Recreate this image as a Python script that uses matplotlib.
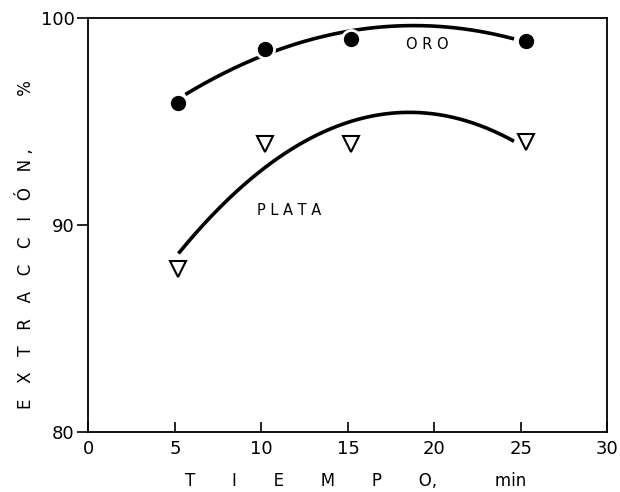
import numpy as np
import matplotlib.pyplot as plt

# measured points
tiempo = [5.2, 10.2, 15.2, 25.3]
oro = [95.9, 98.5, 99.0, 98.9]
plata = [87.9, 93.9, 93.9, 94.0]

# points
oro_curve_x = [5.6, 10.3, 14.7, 16.9, 19.7, 24.6]
oro_curve_y = [96.3, 98.3, 99.3, 99.55, 99.65, 99.0]
plata_curve_x = [5.2, 8.8, 13.0, 18.8, 19.7, 24.6]
plata_curve_y = [88.4, 92.3, 94.0, 95.4, 95.4, 94.1]

xticks = [0, 5, 10, 15, 20, 25, 30]
yticks = [80, 90, 100]

fig = plt.figure(figsize=(6.2, 4.92), dpi=100)
ax = fig.add_axes([0.1427, 0.122, 0.837, 0.841])

for cx, cy in [(oro_curve_x, oro_curve_y), (plata_curve_x, plata_curve_y)]:
    c = np.polyfit(cx, cy, 2)
    xs = np.linspace(cx[0], cx[-1], 200)
    ax.plot(xs, np.polyval(c, xs), color='black', lw=2.6, zorder=2,
            solid_capstyle='butt')

# white halo so the curves break around the markers
ax.plot(tiempo, oro, 'o', ms=14, color='white', zorder=3)
ax.plot(tiempo, oro, 'o', ms=10, color='black', zorder=4)
ax.plot(tiempo, plata, 'v', ms=15, color='white', zorder=3)
ax.plot(tiempo, plata, 'v', ms=12, mfc='white', mec='black', mew=1.5,
        zorder=4)

ax.text(19.6, 98.75, 'O R O', ha='center', va='center', fontsize=10.5)
ax.text(11.6, 90.7, 'P L A T A', ha='center', va='center', fontsize=10.5)

ax.set_xlim(0, 30)
ax.set_ylim(80, 100)
ax.set_xticks(xticks)
ax.set_yticks(yticks)
ax.tick_params(axis='x', direction='in', length=7, width=1.2,
               labelsize=13, pad=6)
ax.tick_params(axis='y', direction='out', length=8, width=1.2,
               labelsize=13, pad=2)
for s in ax.spines.values():
    s.set_linewidth(1.3)

ax.set_xlabel('T       I       E       M       P       O,           min',
              fontsize=12)
ax.xaxis.set_label_coords(0.514, -0.097)
ax.set_ylabel('E   X   T   R   A   C   C   I   Ó   N ,          %',
              fontsize=12)
ax.yaxis.set_label_coords(-0.104, 0.452)

fig.savefig('out.png', dpi=100)
